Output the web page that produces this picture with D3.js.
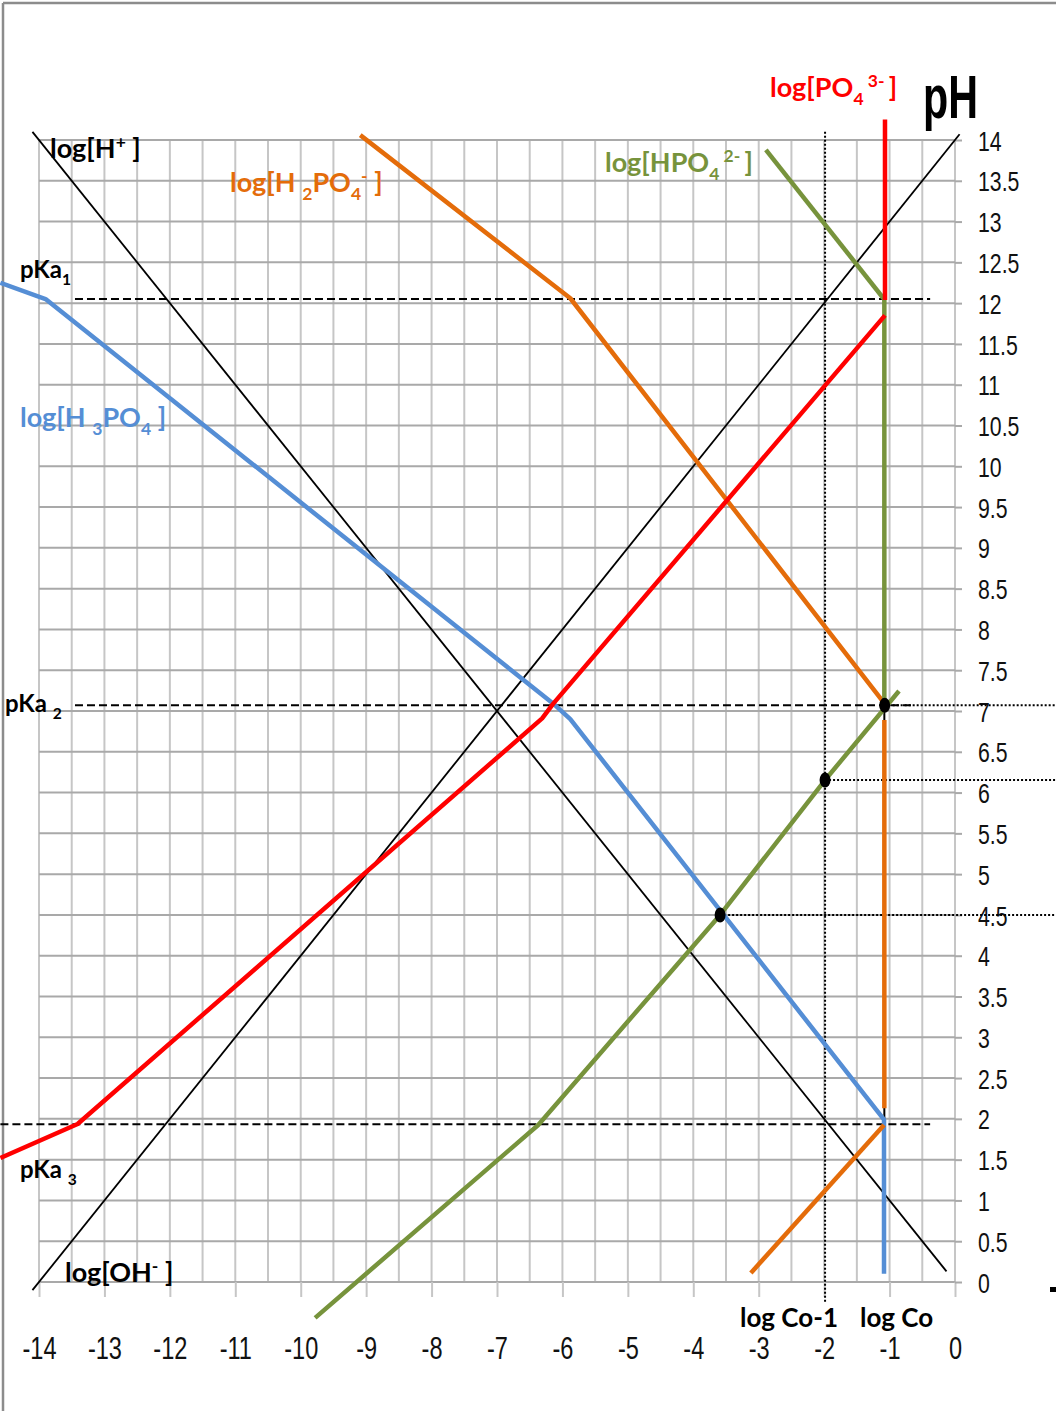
<!DOCTYPE html>
<html>
<head>
<meta charset="utf-8">
<script src="https://cdn.jsdelivr.net/npm/d3@7"></script>
<style>
  html, body { margin: 0; padding: 0; background: #fff; }
  svg { display: block; }
  .tick-y text, .tick-x text { font-family: "Liberation Sans", Arial, sans-serif; fill: #111; }
  .lbl { font-family: Lato, "Open Sans", sans-serif; font-weight: bold; }
</style>
</head>
<body>
<script>
// ---- data (x = log C, y = pH) ----
const xTicks = [-14,-13,-12,-11,-10,-9,-8,-7,-6,-5,-4,-3,-2,-1,0];
const yTicks = [0,0.5,1,1.5,2,2.5,3,3.5,4,4.5,5,5.5,6,6.5,7,7.5,8,8.5,9,9.5,10,10.5,11,11.5,12,12.5,13,13.5,14];

const logH  = [[-14.1,14.1],[-0.13,0.13]];
const logOH = [[-14.1,-0.1],[0.07,14.07]];

const h3po4 = [[-14.59,12.25],[-13.90,12.05],[-6.11,7.07],[-5.88,6.90],[-1.085,1.99],[-1.085,0.10]];

const h2po4A = [[-9.09,14.06],[-5.88,12.06],[-1.085,7.10]];
const h2po4B = [[-1.08,6.89],[-1.08,2.13]];
const h2po4C = [[-1.085,1.925],[-3.12,0.11]];

const hpo4A = [[-2.89,13.88],[-1.095,12.06]];
const hpo4B = [[-1.08,12.06],[-1.08,7.12]];
const hpo4C = [[-0.856,7.245],[-1.986,6.154],[-3.59,4.50],[-6.37,1.925],[-9.78,-0.44]];

const po4A = [[-1.07,14.25],[-1.07,12.04]];
const po4B = [[-1.07,11.85],[-6.14,7.09],[-6.31,6.91],[-13.41,1.937],[-14.59,1.52]];

const blackStub = [[-1.08,1.93],[-1.08,7.07]];

const pKa = [12.05, 7.07, 1.933];
const pKaRange = [[-13.45,-0.38],[-13.45,-0.64],[-14.59,-0.38]];

const dots = [[-1.075,7.07],[-1.986,6.154],[-3.59,4.50]];
const dottedH = [[7.07,-1.075],[6.154,-1.986],[4.50,-3.59]];
const dottedVx = -1.986;
const dottedVRange = [-0.26, 14.1];
const rightEdgeX = 1.54;

const colors = { h3po4: "#558ed5", h2po4: "#e46c0a", hpo4: "#77933c", po4: "#ff0000" };

// ---- layout ----
const W = 1056, H = 1411;
const x = d3.scaleLinear().domain([-14, 0]).range([39, 955]);
const y = d3.scaleLinear().domain([0, 14]).range([1282, 140]);
const squeeze = 0.76;

const svg = d3.select("body").append("svg").attr("width", W).attr("height", H);

// frame
svg.append("line").attr("x1", 3).attr("x2", W).attr("y1", 3).attr("y2", 3).attr("stroke", "#8c8c8c").attr("stroke-width", 2.5);
svg.append("line").attr("x1", 3).attr("x2", 3).attr("y1", 3).attr("y2", H).attr("stroke", "#8c8c8c").attr("stroke-width", 2.5);

// grid
const grid = svg.append("g");
const halfX = d3.range(-14, 0.01, 0.5);
grid.selectAll("line.v").data(halfX).join("line")
  .attr("x1", d => x(d)).attr("x2", d => x(d))
  .attr("y1", y(14)).attr("y2", y(0))
  .attr("stroke", "#c6c6c6").attr("stroke-width", 2);
grid.selectAll("line.h").data(yTicks).join("line")
  .attr("x1", x(-14)).attr("x2", x(0))
  .attr("y1", d => y(d)).attr("y2", d => y(d))
  .attr("stroke", "#a9a9a9").attr("stroke-width", 2);

// x axis (major ticks + labels)
const xAxis = d3.axisBottom(x).tickValues(xTicks).tickSize(15).tickFormat(d3.format("d"));
const gx = svg.append("g").attr("class", "tick-x").attr("transform", `translate(0,${y(0)})`).call(xAxis);
gx.select(".domain").remove();
gx.selectAll(".tick line").attr("stroke", "#c6c6c6").attr("stroke-width", 2);
gx.selectAll(".tick text").attr("y", 77).attr("dy", 0).attr("font-size", 31)
  .attr("transform", `scale(${squeeze},1)`).text(d => String(d));

// y axis (right)
const yAxis = d3.axisRight(y).tickValues(yTicks).tickSize(7).tickFormat(d => String(d));
const gy = svg.append("g").attr("class", "tick-y").attr("transform", `translate(${x(0)},0)`).call(yAxis);
gy.select(".domain").remove();
gy.selectAll(".tick line").attr("stroke", "#a9a9a9").attr("stroke-width", 2);
gy.selectAll(".tick text").attr("x", 23 / squeeze).attr("dy", "0.36em").attr("font-size", 28)
  .attr("transform", `scale(${squeeze},1)`);

const line = d3.line().x(d => x(d[0])).y(d => y(d[1]));

// pKa dashed lines
pKa.forEach((p, i) => {
  svg.append("line")
    .attr("x1", x(pKaRange[i][0])).attr("x2", x(pKaRange[i][1]))
    .attr("y1", y(p)).attr("y2", y(p))
    .attr("stroke", "#000").attr("stroke-width", 2).attr("stroke-dasharray", "8,4");
});

// dotted helper lines
svg.append("line").attr("x1", x(dottedVx)).attr("x2", x(dottedVx))
  .attr("y1", y(dottedVRange[1])).attr("y2", y(dottedVRange[0]))
  .attr("stroke", "#000").attr("stroke-width", 2).attr("stroke-dasharray", "2,2");
dottedH.forEach(d => {
  svg.append("line").attr("x1", x(d[1])).attr("x2", x(rightEdgeX))
    .attr("y1", y(d[0])).attr("y2", y(d[0]))
    .attr("stroke", "#000").attr("stroke-width", 2).attr("stroke-dasharray", "2,2");
});

// black log lines
[logH, logOH].forEach(d => svg.append("path").attr("d", line(d)).attr("fill", "none").attr("stroke", "#000").attr("stroke-width", 1.8));
svg.append("path").attr("d", line(blackStub)).attr("fill", "none").attr("stroke", "#000").attr("stroke-width", 2);

// species lines
function sp(data, color) {
  svg.append("path").attr("d", line(data)).attr("fill", "none").attr("stroke", color)
    .attr("stroke-width", 4.5).attr("stroke-linejoin", "round");
}
sp(h3po4, colors.h3po4);
sp(h2po4A, colors.h2po4); sp(h2po4B, colors.h2po4); sp(h2po4C, colors.h2po4);
sp(hpo4A, colors.hpo4); sp(hpo4B, colors.hpo4); sp(hpo4C, colors.hpo4);
sp(po4A, colors.po4); sp(po4B, colors.po4);

// dots
svg.selectAll("ellipse.dot").data(dots).join("ellipse")
  .attr("cx", d => x(d[0])).attr("cy", d => y(d[1])).attr("rx", 5.5).attr("ry", 7.5).attr("fill", "#000");

// labels
function label(px, py, parts, color, size) {
  const t = svg.append("text").attr("class", "lbl").attr("x", px).attr("y", py)
    .attr("fill", color).attr("font-size", size);
  let cur = 0;
  parts.forEach(([s, k]) => {
    const target = k === "sub" ? size * 0.28 : k === "sup" ? -size * 0.38 : 0;
    t.append("tspan").attr("dy", target - cur).attr("font-size", k === "n" ? size : size * 0.65).text(s);
    cur = target;
  });
  return t;
}
label(50, 158, [["log[H","n"],["+","sup"],[" ]","n"]], "#000", 27);
label(230, 192, [["log[H ","n"],["2","sub"],["PO","n"],["4","sub"],["-","sup"],[" ]","n"]], colors.h2po4, 27);
label(20, 278, [["pKa","n"],["1","sub"]], "#000", 24);
label(20, 427, [["log[H ","n"],["3","sub"],["PO","n"],["4","sub"],[" ]","n"]], colors.h3po4, 27);
label(770, 97, [["log[PO","n"],["4","sub"],[" 3- ","sup"],["]","n"]], colors.po4, 27);
label(605, 172, [["log[HPO","n"],["4","sub"],[" 2- ","sup"],["]","n"]], colors.hpo4, 27);
label(5, 712, [["pKa ","n"],["2","sub"]], "#000", 24);
label(20, 1178, [["pKa ","n"],["3","sub"]], "#000", 24);
label(65, 1282, [["log[OH","n"],["-","sup"],[" ]","n"]], "#000", 27);
label(740, 1327, [["log Co-1","n"]], "#000", 26);
label(860, 1327, [["log Co","n"]], "#000", 26);
svg.append("text").attr("x", 923).attr("y", 118).attr("font-family", "'Liberation Sans', sans-serif")
  .attr("font-weight", "bold").attr("font-size", 62).attr("textLength", 55).attr("lengthAdjust", "spacingAndGlyphs").text("pH");
svg.append("rect").attr("x", 1050).attr("y", 1287).attr("width", 6).attr("height", 5).attr("fill", "#000");
</script>
</body>
</html>
